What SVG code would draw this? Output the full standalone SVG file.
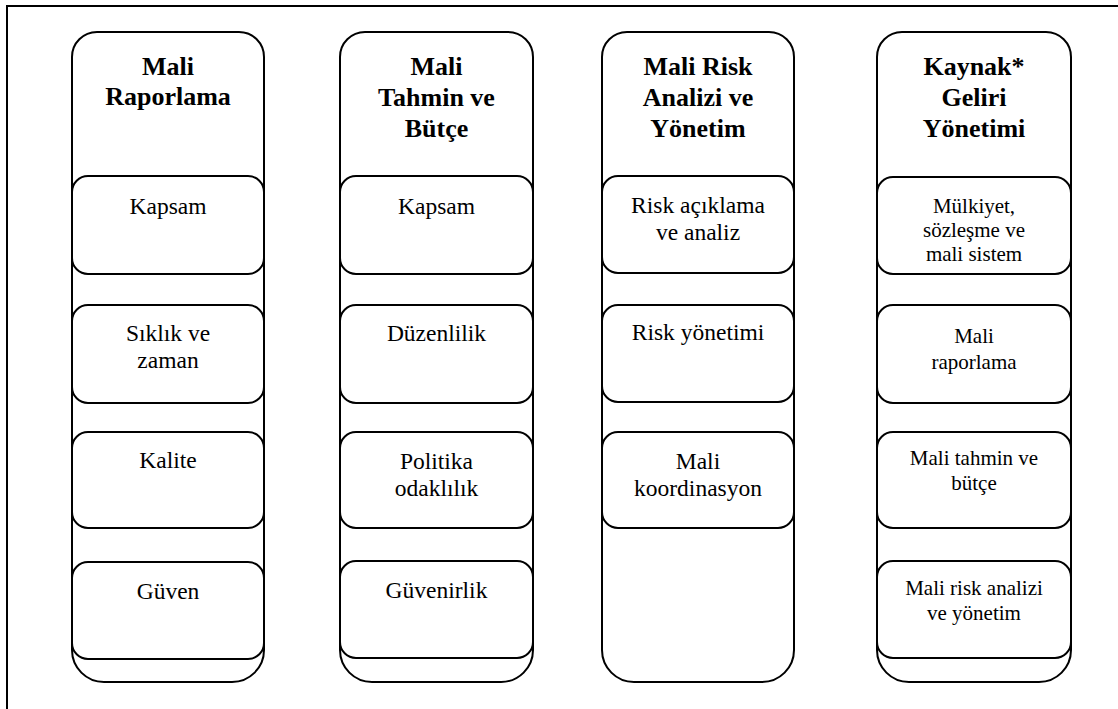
<svg xmlns="http://www.w3.org/2000/svg" width="1118" height="709" viewBox="0 0 1118 709">
  <style>
    .frame { fill: none; stroke: #000; stroke-width: 2; }
    .col { fill: #fff; stroke: #000; stroke-width: 2; }
    .box { fill: #fff; stroke: #000; stroke-width: 2; }
    svg text { font-family: "Liberation Serif", "Times New Roman", serif !important; fill: #000; text-anchor: middle; }
    svg text.head { font-weight: bold; font-size: 26px; }
    svg text.item { font-size: 23.5px; }
    svg text.item4 { font-size: 21px; }
  </style>

  <!-- page frame (runs past the right and bottom edges) -->
  <rect class="frame" x="7" y="6" width="1130" height="720"/>

  <!-- column 1: Mali Raporlama -->
  <g id="col-mali-raporlama">
    <path class="col" d="M72,57 A25,25 0 0 1 97,32 L239,32 A25,25 0 0 1 264,57 L264,650 A32,32 0 0 1 232,682 L104,682 A32,32 0 0 1 72,650 Z"/>
    <text class="head" font-family="Liberation Serif" x="168" y="75">Mali</text>
    <text class="head" font-family="Liberation Serif" x="168" y="105">Raporlama</text>
  </g>
  <g id="n1-kapsam">
    <rect class="box" x="72" y="176" width="192" height="98" rx="16"/>
    <text class="item" font-family="Liberation Serif" x="168" y="214">Kapsam</text>
  </g>
  <g id="n1-siklik">
    <rect class="box" x="72" y="305" width="192" height="98" rx="16"/>
    <text class="item" font-family="Liberation Serif" x="168" y="341">Sıklık ve</text>
    <text class="item" font-family="Liberation Serif" x="168" y="368">zaman</text>
  </g>
  <g id="n1-kalite">
    <rect class="box" x="72" y="432" width="192" height="96" rx="16"/>
    <text class="item" font-family="Liberation Serif" x="168" y="468">Kalite</text>
  </g>
  <g id="n1-guven">
    <rect class="box" x="72" y="562" width="192" height="97" rx="16"/>
    <text class="item" font-family="Liberation Serif" x="168" y="599">Güven</text>
  </g>

  <!-- column 2: Mali Tahmin ve Bütçe -->
  <g id="col-mali-tahmin">
    <path class="col" d="M340,57 A25,25 0 0 1 365,32 L508,32 A25,25 0 0 1 533,57 L533,650 A32,32 0 0 1 501,682 L372,682 A32,32 0 0 1 340,650 Z"/>
    <text class="head" font-family="Liberation Serif" x="436.5" y="75">Mali</text>
    <text class="head" font-family="Liberation Serif" x="436.5" y="106">Tahmin ve</text>
    <text class="head" font-family="Liberation Serif" x="436.5" y="137">Bütçe</text>
  </g>
  <g id="n2-kapsam">
    <rect class="box" x="340" y="176" width="193" height="98" rx="16"/>
    <text class="item" font-family="Liberation Serif" x="436.5" y="214">Kapsam</text>
  </g>
  <g id="n2-duzenlilik">
    <rect class="box" x="340" y="305" width="193" height="98" rx="16"/>
    <text class="item" font-family="Liberation Serif" x="436.5" y="341">Düzenlilik</text>
  </g>
  <g id="n2-politika">
    <rect class="box" x="340" y="432" width="193" height="96" rx="16"/>
    <text class="item" font-family="Liberation Serif" x="436.5" y="469">Politika</text>
    <text class="item" font-family="Liberation Serif" x="436.5" y="496">odaklılık</text>
  </g>
  <g id="n2-guvenirlik">
    <rect class="box" x="340" y="561" width="193" height="97" rx="16"/>
    <text class="item" font-family="Liberation Serif" x="436.5" y="598">Güvenirlik</text>
  </g>

  <!-- column 3: Mali Risk Analizi ve Yönetim -->
  <g id="col-mali-risk">
    <path class="col" d="M602,57 A25,25 0 0 1 627,32 L769,32 A25,25 0 0 1 794,57 L794,650 A32,32 0 0 1 762,682 L634,682 A32,32 0 0 1 602,650 Z"/>
    <text class="head" font-family="Liberation Serif" x="698" y="75">Mali Risk</text>
    <text class="head" font-family="Liberation Serif" x="698" y="106">Analizi ve</text>
    <text class="head" font-family="Liberation Serif" x="698" y="137">Yönetim</text>
  </g>
  <g id="n3-risk-aciklama">
    <rect class="box" x="602" y="176" width="192" height="97" rx="16"/>
    <text class="item" font-family="Liberation Serif" x="698" y="213">Risk açıklama</text>
    <text class="item" font-family="Liberation Serif" x="698" y="240">ve analiz</text>
  </g>
  <g id="n3-risk-yonetimi">
    <rect class="box" x="602" y="305" width="192" height="97" rx="16"/>
    <text class="item" font-family="Liberation Serif" x="698" y="340">Risk yönetimi</text>
  </g>
  <g id="n3-koordinasyon">
    <rect class="box" x="602" y="432" width="192" height="96" rx="16"/>
    <text class="item" font-family="Liberation Serif" x="698" y="469">Mali</text>
    <text class="item" font-family="Liberation Serif" x="698" y="496">koordinasyon</text>
  </g>

  <!-- column 4: Kaynak* Geliri Yönetimi -->
  <g id="col-kaynak-geliri">
    <path class="col" d="M877,57 A25,25 0 0 1 902,32 L1046,32 A25,25 0 0 1 1071,57 L1071,650 A32,32 0 0 1 1039,682 L909,682 A32,32 0 0 1 877,650 Z"/>
    <text class="head" font-family="Liberation Serif" x="974" y="75">Kaynak*</text>
    <text class="head" font-family="Liberation Serif" x="974" y="106">Geliri</text>
    <text class="head" font-family="Liberation Serif" x="974" y="137">Yönetimi</text>
  </g>
  <g id="n4-mulkiyet">
    <rect class="box" x="877" y="177" width="194" height="97" rx="16"/>
    <text class="item4" font-family="Liberation Serif" x="974" y="213">Mülkiyet,</text>
    <text class="item4" font-family="Liberation Serif" x="974" y="237">sözleşme ve</text>
    <text class="item4" font-family="Liberation Serif" x="974" y="261">mali sistem</text>
  </g>
  <g id="n4-raporlama">
    <rect class="box" x="877" y="305" width="194" height="98" rx="16"/>
    <text class="item4" font-family="Liberation Serif" x="974" y="343">Mali</text>
    <text class="item4" font-family="Liberation Serif" x="974" y="369">raporlama</text>
  </g>
  <g id="n4-tahmin">
    <rect class="box" x="877" y="432" width="194" height="96" rx="16"/>
    <text class="item4" font-family="Liberation Serif" x="974" y="465">Mali tahmin ve</text>
    <text class="item4" font-family="Liberation Serif" x="974" y="490">bütçe</text>
  </g>
  <g id="n4-risk">
    <rect class="box" x="877" y="561" width="194" height="97" rx="16"/>
    <text class="item4" font-family="Liberation Serif" x="974" y="595">Mali risk analizi</text>
    <text class="item4" font-family="Liberation Serif" x="974" y="620">ve yönetim</text>
  </g>

  <!-- no connectors in this figure -->
  <g id="connectors"/>
</svg>
